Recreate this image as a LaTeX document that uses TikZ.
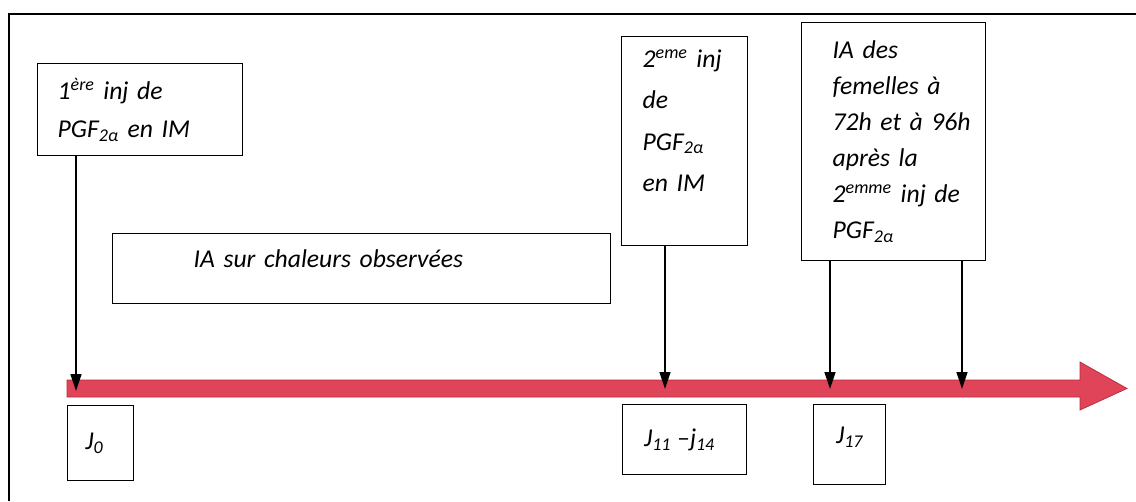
\documentclass[tikz,border=0pt]{standalone}
\usepackage{fontspec}
\setmainfont{Carlito}
\usetikzlibrary{positioning, arrows.meta, calc}
\definecolor{timered}{RGB}{224,68,88}
\definecolor{timeedge}{RGB}{185,40,58}
\tikzset{
    stepbox/.style={rectangle, draw=black, line width=0.8pt, anchor=north west, align=left, inner ysep=0pt, font=\fontsize{14.6}{20.5}\selectfont\itshape},
    daybox/.style={rectangle, draw=black, line width=0.8pt, anchor=north west, align=center, inner sep=0pt, font=\fontsize{14.6}{18}\selectfont\itshape},
    pointer/.style={-{Triangle[length=0.34cm, width=0.22cm]}, line width=0.8pt, black}
}

\begin{document}
\begin{tikzpicture}[x=0.02cm, y=0.02cm]
        \useasboundingbox (0,0) rectangle (1136,501);

        % Outer frame
        \draw[line width=0.8pt] (9,0) -- (9,487) -- (1136,487);

        % Time axis (red arrow)
        \draw[fill=timered, draw=timeedge, line width=0.4pt]
            (67,104) -- (1080,104) -- (1080,91) -- (1127,112.5) -- (1080,139) -- (1080,121) -- (67,121) -- cycle;
        \coordinate (t0) at (76,110);
        \coordinate (t1) at (665,112);
        \coordinate (t2) at (830,112);
        \coordinate (t3) at (962,112);

        % Event boxes
        \node[stepbox, text width=3.3cm, inner xsep=0.4cm, minimum height=1.84cm] (inj1) at (37,438)
            {1\textsuperscript{ère} inj de\\[0.05cm]PGF\textsubscript{2α}~en~IM};
        \node[stepbox, font=\fontsize{14.6}{23.5}\selectfont\itshape, text width=1.68cm, inner xsep=0.42cm, minimum height=4.18cm] (inj2) at (621,465)
            {2\textsuperscript{eme}~inj\\de\\PGF\textsubscript{2α}\\en~IM\\[0cm]\mbox{}};
        \node[stepbox, text width=2.44cm, inner xsep=0.62cm, minimum height=4.76cm] (ia) at (801,479)
            {IA~des\\femelles~à\\72h~et~à~96h\\après~la\\2\textsuperscript{emme}~inj~de\\PGF\textsubscript{2α}};
        \node[stepbox, text width=6.72cm, inner xsep=1.62cm, minimum height=1.4cm] (chaleurs) at (112,268)
            {IA sur chaleurs observées\\[-0.3cm]\mbox{}};

        % Day boxes
        \node[daybox, minimum width=1.32cm, minimum height=1.5cm] (j0) at (67,96) {J\textsubscript{0}\hspace*{0.25cm}};
        \node[daybox, minimum width=2.48cm, minimum height=1.4cm] (j11) at (622,97) {J\textsubscript{11} –j\textsubscript{14}\hspace*{0.2cm}};
        \node[daybox, minimum width=1.44cm, minimum height=1.6cm] (j17) at (813,97) {J\textsubscript{17}\\[-0.25cm]\mbox{}};

        % Arrows to the axis
        \draw[pointer] (inj1.south -| t0) -- (t0);
        \draw[pointer] (inj2.south -| t1) -- (t1);
        \draw[pointer] (ia.south -| t2) -- (t2);
        \draw[pointer] (ia.south -| t3) -- (t3);

    \end{tikzpicture}
\end{document}
